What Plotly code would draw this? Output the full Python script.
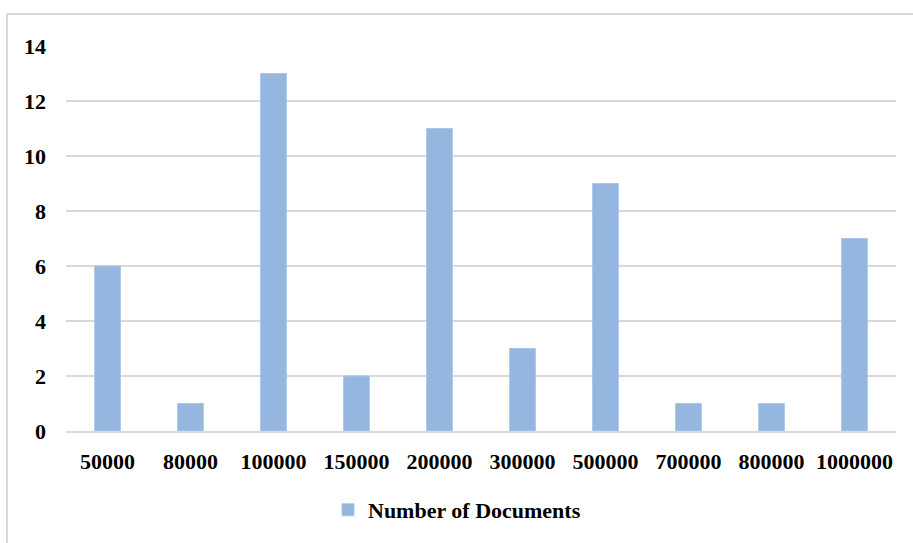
import plotly.graph_objects as go

# Collection sizes and how many documents fall into each
sizes = ["50000", "80000", "100000", "150000", "200000",
         "300000", "500000", "700000", "800000", "1000000"]
doc_counts = [6, 1, 13, 2, 11, 3, 9, 1, 1, 7]
y_ticks = [0, 2, 4, 6, 8, 10, 12, 14]

BAR = "#95B7DF"
GRID = "#D9D9D9"
FONT = dict(family="Liberation Serif, Times New Roman, serif", size=22,
            color="#000000", weight="bold")

fig = go.Figure()
fig.add_trace(go.Bar(
    x=sizes, y=doc_counts, name="Number of Documents",
    marker=dict(color=BAR, line=dict(color="#A9C6E8", width=1)),
    showlegend=True,
))

W, H = 913, 543
L, R, T, B = 66, 17, 46, 112
pw, ph = W - L - R, H - T - B

fig.update_layout(
    width=W, height=H,
    margin=dict(l=L, r=R, t=T, b=B),
    paper_bgcolor="white", plot_bgcolor="white",
    font=FONT,
    bargap=0.69,
    showlegend=True,
    legend=dict(orientation="h", x=(328 - L) / pw, xanchor="left",
                y=(H - B - 510) / ph, yanchor="middle",
                font=FONT, itemwidth=30,
                bgcolor="rgba(0,0,0,0)"),
    xaxis=dict(showgrid=False, showline=True, linecolor=GRID, linewidth=2,
               ticks="", tickfont=FONT, ticklabelstandoff=10,
               fixedrange=True),
    yaxis=dict(range=[0, 14], tickvals=y_ticks, showgrid=True,
               gridcolor=GRID, gridwidth=2, zeroline=False,
               showline=False, ticks="", tickfont=FONT,
               ticklabelstandoff=19, fixedrange=True),
    shapes=[dict(type="rect", xref="paper", yref="paper",
                 x0=(7 - L) / pw, x1=(W + 3 - L) / pw,
                 y0=(H - B - (H + 3)) / ph, y1=(H - B - 14) / ph,
                 line=dict(color=GRID, width=2), layer="below")],
)

fig.write_html("out.html")
